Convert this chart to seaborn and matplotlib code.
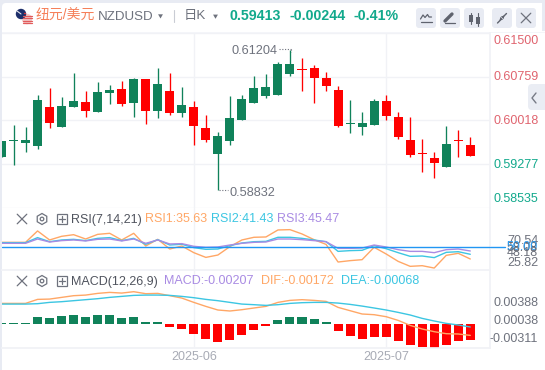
import numpy as np
import pandas as pd
import matplotlib
matplotlib.use('Agg')
import matplotlib.pyplot as plt
from matplotlib.patches import Circle, FancyBboxPatch, Rectangle, RegularPolygon
import seaborn as sns

W, H = 545, 370
GREEN = '#10825a'
RED = '#ff0000'
TEAL = '#12a98c'
ORANGE = '#ffa766'
CYAN = '#3cc6e2'
PURPLE = '#a98be3'
GRID = '#f1f2f6'
PANEL = '#e8ebf3'
GREY = '#6e727d'

open_p = [.59404, .59670, .59636, .59591, .60246, .59913, .60252, .60331, .60162, .60483,
          .60551, .60314, .60721, .60179, .60517, .60145, .60246, .59891, .59450, .59670,
          .60026, .60314, .60433, .60450, .60805, .60890, .60907, .60738, .60534, .59950,
          .59913, .59941, .60348, .60077, .59687, .59465, .59382, .59230, .59690, .59603]
close_p = [.59675, .59687, .59687, .60370, .59975, .60263, .60348, .60179, .60500, .60534,
           .60297, .60721, .60179, .60636, .60150, .60280, .59925, .59687, .59755, .60060,
           .60382, .60568, .60585, .60975, .60975, .60873, .60738, .60602, .59930, .59970,
           .59975, .60348, .60094, .59738, .59433, .59448, .59298, .59620, .59673, .59413]
high_p = [.59675, .59942, .59903, .60450, .60568, .60416, .60822, .60517, .60670, .60619,
          .60687, .60738, .60721, .60907, .60822, .60585, .60348, .60111, .59823, .60433,
          .60450, .60772, .60805, .61009, .61204, .61077, .60958, .60839, .60602, .60370,
          .60162, .60382, .60450, .60162, .60077, .59704, .59484, .59925, .59857, .59738]
low_p = [.59404, .59264, .59489, .59540, .59896, .59913, .60252, .60082, .60162, .60297,
         .60268, .60082, .59958, .60060, .60116, .60082, .59603, .59654, .58832, .59603,
         .60026, .60314, .60399, .60450, .60772, .60517, .60314, .60517, .59913, .59806,
         .59772, .59941, .60026, .59704, .59399, .59145, .59044, .59230, .59399, .59408]

rsi1 = [56.1, 56.1, 56.1, 70.1, 59.0, 63.5, 65.5, 60.2, 65.9, 67.2,
        59.0, 67.2, 51.6, 59.8, 47.9, 51.6, 43.4, 37.6, 40.5, 50.8,
        59.0, 62.3, 62.7, 71.3, 71.7, 66.4, 59.4, 53.6, 31.9, 33.6,
        34.8, 50.0, 41.8, 32.7, 26.6, 27.4, 24.5, 40.1, 42.6, 35.63]
rsi2 = [55.7, 55.7, 55.7, 61.9, 56.9, 59.0, 59.8, 58.2, 61.0, 61.9,
        58.2, 61.0, 53.7, 59.4, 52.8, 53.7, 49.6, 47.5, 47.9, 52.0,
        55.3, 56.9, 57.3, 62.3, 62.3, 61.0, 59.0, 56.9, 45.0, 45.9,
        46.3, 52.0, 48.3, 43.4, 38.9, 39.3, 37.3, 43.8, 44.6, 41.43]
rsi3 = [54.9, 54.9, 54.9, 60.2, 56.5, 58.2, 59.0, 57.8, 59.8, 60.2,
        57.8, 60.2, 54.9, 59.0, 54.1, 54.5, 51.2, 50.0, 50.4, 52.8,
        54.9, 56.1, 56.5, 60.2, 60.2, 59.4, 58.2, 56.9, 48.7, 48.7,
        49.1, 52.8, 50.4, 47.1, 45.0, 45.0, 43.4, 47.1, 47.9, 45.47]

macd = [.00010, .00010, .00010, .00087, .00074, .00100, .00113, .00087, .00113, .00113,
        .00074, .00087, .00022, .00022, -.00043, -.00069, -.00134, -.00199, -.00234, -.00212,
        -.00147, -.00082, -.00030, .00043, .00087, .00087, .00061, .00022, -.00091, -.00156,
        -.00195, -.00169, -.00169, -.00221, -.00273, -.00299, -.00312, -.00277, -.00221, -.00207]
dif = [.00264, .00264, .00264, .00316, .00320, .00342, .00364, .00372, .00394, .00407,
       .00398, .00416, .00390, .00394, .00364, .00333, .00277, .00225, .00178, .00165,
       .00182, .00204, .00225, .00277, .00303, .00312, .00303, .00290, .00212, .00169,
       .00126, .00117, .00091, .00043, -.00022, -.00069, -.00104, -.00130, -.00134, -.00152]
dea = [.00255, .00255, .00255, .00260, .00277, .00286, .00299, .00312, .00325, .00342,
       .00355, .00368, .00372, .00372, .00368, .00355, .00338, .00316, .00299, .00277,
       .00255, .00247, .00238, .00247, .00264, .00273, .00277, .00277, .00268, .00251,
       .00229, .00204, .00178, .00147, .00113, .00069, .00035, .00004, -.00017, -.00043]

price_ticks = [.61500, .60759, .60018, .59277, .58535]
date_labels = ['2025-06', '2025-07']
date_days = [16, 32]

days = np.arange(len(open_p))
df = pd.DataFrame({'day': days, 'open': open_p, 'close': close_p, 'high': high_p, 'low': low_p})
df['up'] = df['close'] >= df['open']
df['top'] = df[['open', 'close']].max(axis=1)
df['bottom'] = df[['open', 'close']].min(axis=1)
df['body'] = df['top'] - df['bottom']

sns.set_theme(style='white')
plt.rcParams['font.family'] = ['Liberation Sans', 'Noto Sans CJK SC', 'DejaVu Sans']

fig = plt.figure(figsize=(W / 100, H / 100), dpi=100, facecolor=PANEL)


def px_axes(left, top, right, bottom, zorder=1):
    return fig.add_axes([left / W, 1 - bottom / H, (right - left) / W, (bottom - top) / H], zorder=zorder)


# background card behind the panels
bg = px_axes(0, 0, W, H, zorder=0)
bg.set_xlim(0, W)
bg.set_ylim(H, 0)
bg.axis('off')
bg.add_patch(FancyBboxPatch((2, 3), 560, 400, boxstyle='round,pad=0,rounding_size=4', fc='white', ec='none'))
bg.add_patch(Rectangle((541.5, 0), 4, 31, fc=PANEL, ec='none'))
bg.add_patch(Rectangle((2, 31.5), 543, 1.5, fc='#f4f5f9', ec='none'))

STEP = 12.02
X0 = 1.5


def setup(ax, ylim, yticks):
    ax.set_xlim((2 - X0) / STEP, (490 - X0) / STEP)
    ax.set_ylim(*ylim)
    ax.set_xticks(date_days)
    ax.set_yticks(yticks)
    ax.set_xticklabels([])
    ax.set_yticklabels([])
    ax.set_xlabel('')
    ax.set_ylabel('')
    ax.tick_params(length=0)
    ax.grid(True, color=GRID, lw=1)
    ax.set_axisbelow(True)
    ax.patch.set_alpha(0)
    for name, sp in ax.spines.items():
        sp.set_visible(name == 'right')
        sp.set_color(GRID)


# candles
ax = px_axes(2, 33, 490, 208)
for up, color in [(True, GREEN), (False, RED)]:
    sub = df[df['up'] == up]
    ax.vlines(sub['day'], sub['low'], sub['high'], color=color, lw=0.95, zorder=2)
    sns.barplot(x=sub['day'].to_numpy(), y=sub['body'].to_numpy(), bottom=sub['bottom'].to_numpy(),
                native_scale=True, width=0.75, color=color, saturation=1, linewidth=0, ax=ax, zorder=3)
setup(ax, (.58535, .61500), price_ticks)

# RSI
ax2 = px_axes(2, 208, 490, 270)
for vals, color in [(rsi1, ORANGE), (rsi2, CYAN), (rsi3, PURPLE)]:
    sns.lineplot(x=days, y=vals, color=color, lw=1, ax=ax2, zorder=3)
setup(ax2, (22.1, 98.3), [])
ax2.axhline(50, color='#2196f3', lw=1, zorder=4)

# MACD
ax3 = px_axes(2, 270, 490, 348)
sns.barplot(x=days, y=macd, hue=np.array(macd) > 0, palette={True: GREEN, False: RED}, native_scale=True,
            width=0.75, saturation=1, linewidth=0, dodge=False, legend=False, ax=ax3, zorder=2)
sns.lineplot(x=days, y=dif, color=ORANGE, lw=1, ax=ax3, zorder=3)
sns.lineplot(x=days, y=dea, color=CYAN, lw=1, ax=ax3, zorder=3)
setup(ax3, (-.00316, .00698), [-.00316])
ax3.spines['bottom'].set_visible(True)
ax3.spines['bottom'].set_color(GRID)
ax3.spines['top'].set_visible(True)
ax3.spines['top'].set_color(GRID)

# header, labels and icons
ov = px_axes(0, 0, W, H, zorder=5)
ov.set_xlim(0, W)
ov.set_ylim(H, 0)
ov.axis('off')


def label(x, y, s, color=GREY, size=9, **kw):
    kw.setdefault('va', 'center')
    ov.text(x, y, s, color=color, fontsize=size, **kw)


def x_icon(x, y, r, color=GREY):
    ov.plot([x - r, x + r], [y - r, y + r], color=color, lw=0.9)
    ov.plot([x - r, x + r], [y + r, y - r], color=color, lw=0.9)


# flags
ov.add_patch(Circle((27, 19), 5.2, fc='#f3c9c9', ec='none'))
for yy in (15.5, 18, 20.5, 23):
    ov.plot([22.5, 31.8], [yy, yy], color='#e25b5b', lw=0.9)
ov.add_patch(Circle((21, 14), 5.2, fc='#1d2f6b', ec='none'))
ov.plot([17, 21], [11, 14], color='#e8e8ee', lw=0.8)
ov.plot([24, 25], [13, 13], color='#d8343a', lw=1)

label(36, 15.5, '纽元/美元', color='#f5805a', size=10)
label(98, 16.5, 'NZDUSD', color=GREY, size=9.6)
label(184, 15.5, '日K', color=GREY, size=9.6)
ov.add_patch(RegularPolygon((160.5, 15.7), 3, radius=2.8, orientation=0, fc=GREY, ec='none'))
ov.add_patch(RegularPolygon((215.5, 16), 3, radius=2.8, orientation=0, fc=GREY, ec='none'))
ov.plot([174, 174], [10, 22], color='#c9ccd4', lw=0.8)
label(229, 15.5, '0.59413', color=TEAL, size=10.2, fontweight='bold')
label(289, 15.5, '-0.00244', color=TEAL, size=10.2, fontweight='bold')
label(354, 15.5, '-0.41%', color=TEAL, size=10.2, fontweight='bold')

for left in (416, 440, 464, 492, 516):
    ov.add_patch(FancyBboxPatch((left, 8), 20, 20, boxstyle='round,pad=0,rounding_size=3', fc=PANEL, ec='none'))
ic = '#5f636e'
ov.plot([420.5, 423, 425, 427.5, 429, 431.5], [19, 15, 17.5, 14.5, 17, 17], color=ic, lw=0.9)
ov.plot([420.5, 431.5], [22, 22], color=ic, lw=0.9)
ov.plot([445, 452], [21, 14], color=ic, lw=2.4)
ov.plot([444.5, 455], [23, 23], color=ic, lw=0.9)
ov.add_patch(Rectangle((469, 15), 4, 7, fc=ic, ec='none'))
ov.add_patch(Rectangle((475.5, 16.5), 4, 7, fc=ic, ec='none'))
ov.plot([471, 471], [12.5, 24], color=ic, lw=0.8)
ov.plot([477.5, 477.5], [13, 26], color=ic, lw=0.8)
ov.plot([497.5, 501], [23, 19.5], color=ic, lw=1)
ov.plot([503, 506.5], [17, 13.5], color=ic, lw=1)
ov.add_patch(RegularPolygon((501, 19), 3, radius=2.2, orientation=0.8, fc=ic, ec='none'))
ov.add_patch(RegularPolygon((503, 17), 3, radius=2.2, orientation=-2.4, fc=ic, ec='none'))
x_icon(526, 18, 4.8)

# collapse tab
ov.add_patch(FancyBboxPatch((528, 84), 30, 26, boxstyle='round,pad=0,rounding_size=4', fc=PANEL, ec='none', alpha=0.9))
ov.plot([536, 532, 536], [93, 98, 103], color='#777b86', lw=1)

# price labels
label(494, 40.5, '0.61500', color='#e0646f')
label(494, 77.5, '0.60759', color='#e0646f')
label(494, 121.5, '0.60018', color='#e0646f')
label(494, 165.5, '0.59277', color=TEAL)
label(494, 198.5, '0.58535', color=TEAL)

# extremes
label(232, 51.5, '0.61204', color=GREY, size=9.2)
ov.plot([279, 291], [49, 49], color=GREY, lw=0.8, ls=(0, (1, 1.5)))
ov.plot([291, 291], [49, 52], color=GREY, lw=0.8, ls=(0, (1, 1.5)))
label(230, 192.5, '0.58832', color=GREY, size=9.2)
ov.plot([219, 228], [190, 190], color=GREY, lw=0.8, ls=(0, (1, 1.5)))

# RSI row
for row_y, txt, txt_x, parts in [
    (219, 'RSI(7,14,21)', 70.5, [(145, 'RSI1:35.63', ORANGE), (211, 'RSI2:41.43', CYAN), (277, 'RSI3:45.47', PURPLE)]),
    (281, 'MACD(12,26,9)', 71, [(164, 'MACD:-0.00207', PURPLE), (261, 'DIF:-0.00172', ORANGE), (341, 'DEA:-0.00068', CYAN)]),
]:
    x_icon(22, row_y, 4.8)
    ov.add_patch(RegularPolygon((42, row_y), 6, radius=5.5, fc='none', ec=GREY, lw=0.9))
    ov.add_patch(Circle((42, row_y), 1.8, fc='none', ec=GREY, lw=0.9))
    ov.add_patch(Rectangle((56.5, row_y - 5), 10, 10, fc='none', ec=GREY, lw=0.9))
    ov.plot([58.5, 64.5], [row_y, row_y], color=GREY, lw=0.9)
    ov.plot([61.5, 61.5], [row_y - 3, row_y + 3], color=GREY, lw=0.9)
    label(txt_x, row_y + 0.5, txt, color='#50545e')
    for px, s, c in parts:
        label(px, row_y + 0.5, s, color=c)

# RSI axis labels, they overlap in the original
label(507, 241, '70.54')
label(507, 248, '58.08', color='#5a5e69')
label(507, 247.5, '50.00', color='#2f9cf0')
label(507, 253, '48.18')
label(507, 262.5, '25.82')
ov.plot([490, 505], [247.3, 247.3], color='#2196f3', lw=1)

# MACD axis labels
label(494, 303.5, '0.00388')
label(494, 321.5, '0.00038')
label(489, 339.5, '-0.00311')

for d, s in zip(date_days, date_labels):
    label(X0 + STEP * d, 356.5, s, color='#a8abb5', ha='center')

fig.savefig('out.png', dpi=100, facecolor=fig.get_facecolor())
